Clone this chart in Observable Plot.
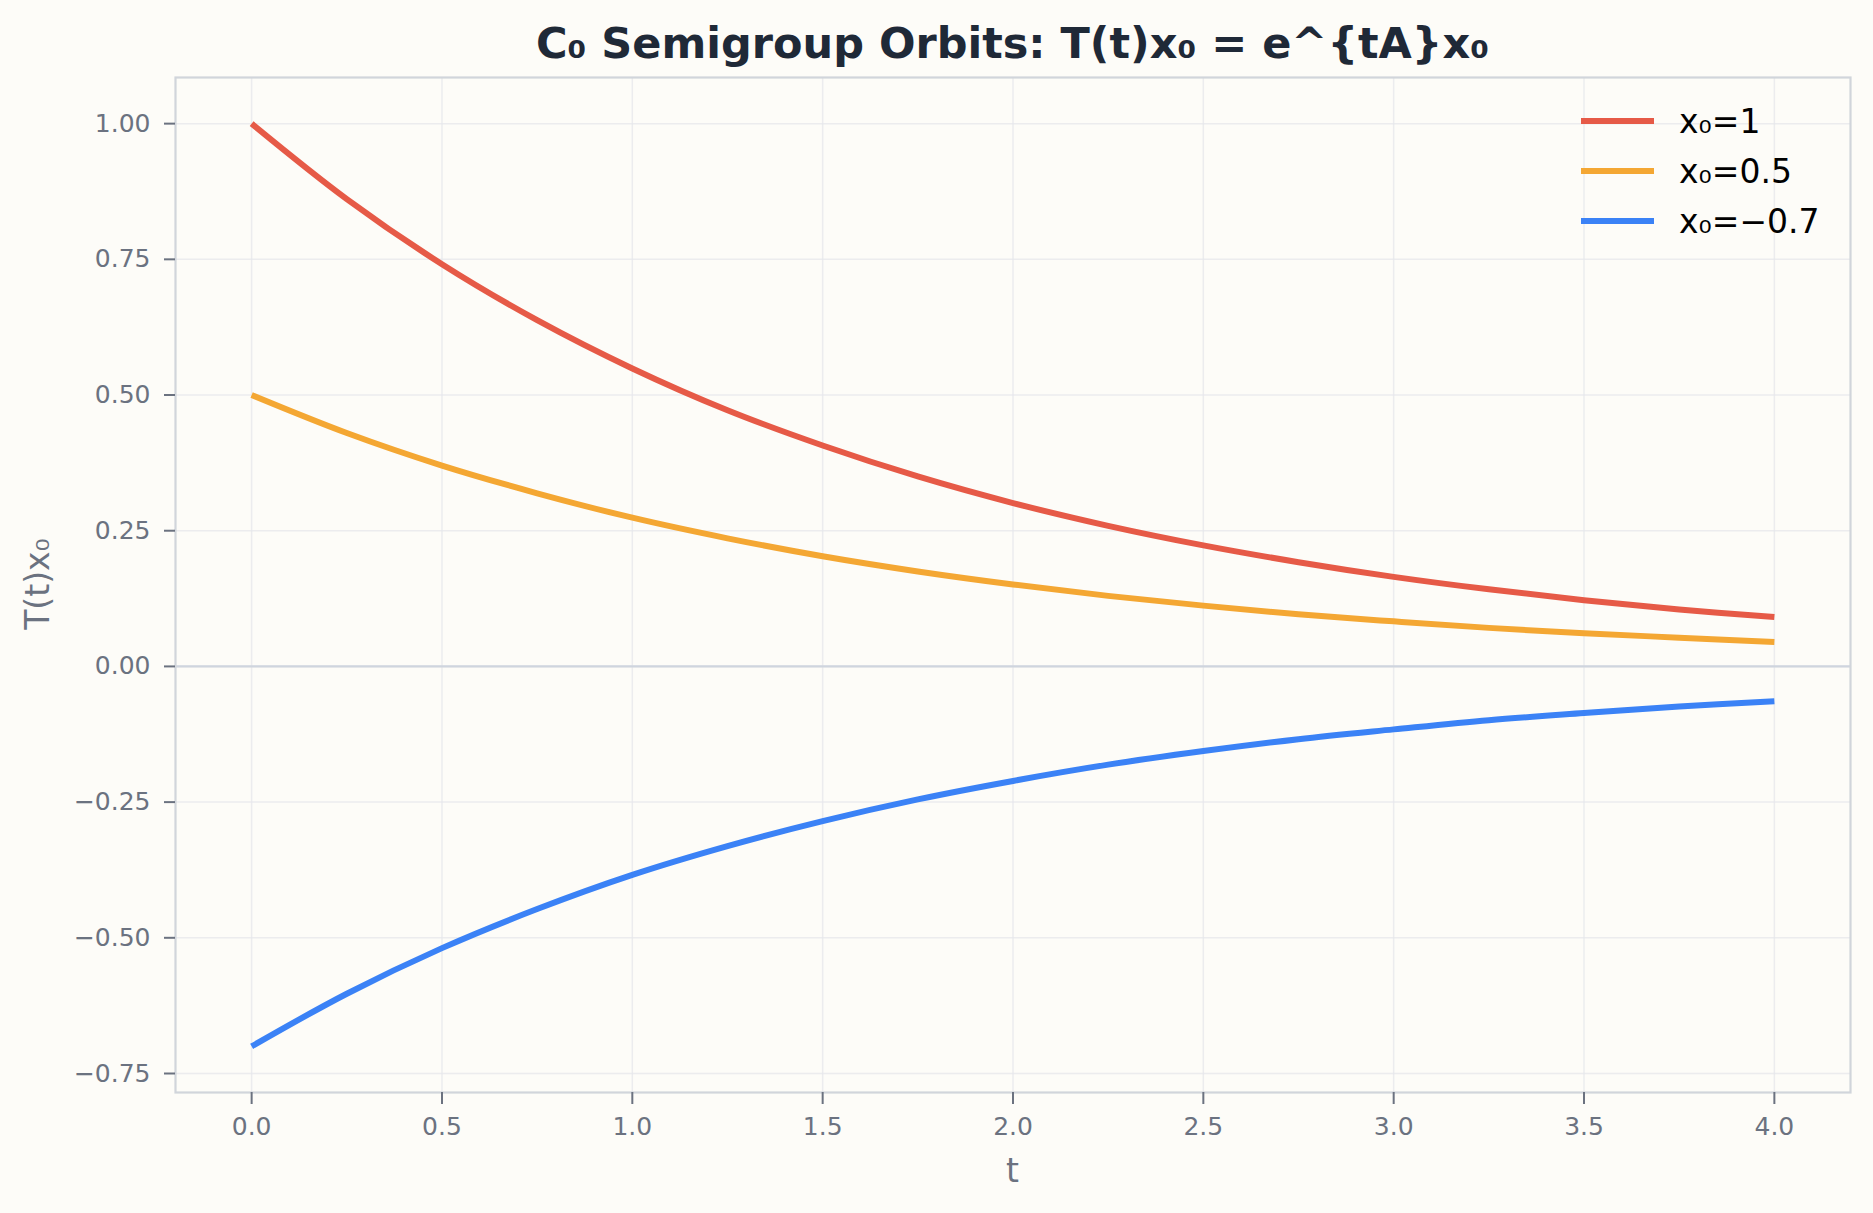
<!DOCTYPE html>
<html>
<head>
<meta charset="utf-8">
<script src="https://cdn.jsdelivr.net/npm/d3@7"></script>
<script src="https://cdn.jsdelivr.net/npm/@observablehq/plot@0.6"></script>
<style>
  html, body { margin: 0; padding: 0; background: #fdfcf8; }
  #wrap { position: relative; width: 1873px; height: 1213px; font-family: "DejaVu Sans", sans-serif; }
  #title { position: absolute; left: 175px; width: 1675px; top: 20px; text-align: center; font-size: 43px; line-height: 46px; font-weight: bold; color: #1f2937; }
  .axlabel { position: absolute; font-size: 33px; color: #6b7280; line-height: 36px; }
  #xlabel { left: 175px; width: 1675px; text-align: center; top: 1153px; }
  #ylabel { left: 38px; top: 584px; transform: translate(-50%, -50%) rotate(-90deg); white-space: nowrap; }
  #legend { position: absolute; left: 1581px; top: 96px; font-size: 33px; color: #000; }
  .row { display: flex; align-items: center; height: 50px; }
  .swatch { width: 73px; height: 6px; margin-right: 25px; }
  svg { position: absolute; left: 0; top: 0; }
</style>
</head>
<body>
<div id="wrap">
  <div id="title">C₀ Semigroup Orbits: T(t)x₀ = e^{tA}x₀</div>
  <div id="xlabel" class="axlabel">t</div>
  <div id="ylabel" class="axlabel">T(t)x₀</div>
  <div id="legend"></div>
</div>
<script>
// Data
const tValues = [0, 0.25, 0.5, 0.75, 1, 1.25, 1.5, 1.75, 2, 2.25, 2.5, 2.75, 3, 3.25, 3.5, 3.75, 4];
const seriesNames = ["x₀=1", "x₀=0.5", "x₀=−0.7"];
const seriesColors = ["#e65a47", "#f4a733", "#3b82f6"];
const redValues = [1.00, 0.861, 0.741, 0.638, 0.549, 0.472, 0.407, 0.350, 0.301, 0.259, 0.223, 0.192, 0.165, 0.142, 0.122, 0.105, 0.091];
const orangeValues = [0.50, 0.430, 0.370, 0.319, 0.274, 0.236, 0.203, 0.175, 0.151, 0.130, 0.112, 0.096, 0.083, 0.071, 0.061, 0.053, 0.045];
const blueValues = [-0.70, -0.603, -0.519, -0.447, -0.384, -0.331, -0.285, -0.245, -0.211, -0.181, -0.156, -0.134, -0.116, -0.099, -0.086, -0.074, -0.064];
const xTicks = [0, 0.5, 1, 1.5, 2, 2.5, 3, 3.5, 4];
const yTicks = [-0.75, -0.5, -0.25, 0, 0.25, 0.5, 0.75, 1.0];

const allValues = [redValues, orangeValues, blueValues];
const data = [];
allValues.forEach((vals, i) => {
  vals.forEach((v, j) => data.push({t: tValues[j], v, series: seriesNames[i]}));
});

const gray = "#6b7280";
const chart = Plot.plot({
  width: 1873,
  height: 1213,
  marginLeft: 175,
  marginRight: 23,
  marginTop: 77,
  marginBottom: 121,
  style: {background: "transparent", fontFamily: "DejaVu Sans", fontSize: "25px"},
  x: {domain: [-0.2, 4.2]},
  y: {domain: [-0.785, 1.085]},
  color: {domain: seriesNames, range: seriesColors},
  marks: [
    Plot.gridX(xTicks, {stroke: "#e5e7eb", strokeOpacity: 0.75, strokeWidth: 1.5}),
    Plot.gridY(yTicks, {stroke: "#e5e7eb", strokeOpacity: 0.75, strokeWidth: 1.5}),
    Plot.ruleY([0], {stroke: "#cfd5de", strokeWidth: 2.2}),
    Plot.line(data, {x: "t", y: "v", z: "series", stroke: "series", curve: "catmull-rom", strokeWidth: 6, strokeLinecap: "butt", strokeLinejoin: "round"}),
    Plot.frame({stroke: "#d1d5db", strokeWidth: 2.2}),
    Plot.axisX(xTicks, {tickFormat: d3.format(".1f"), tickSize: 12, tickPadding: 13, color: gray, strokeWidth: 2, label: null, fontSize: 25}),
    Plot.axisY(yTicks, {tickFormat: d3.format(".2f"), tickSize: 11, tickPadding: 14, color: gray, strokeWidth: 2, label: null, fontSize: 25})
  ]
});
document.getElementById("wrap").prepend(chart);

const legend = document.getElementById("legend");
seriesNames.forEach((name, i) => {
  const row = document.createElement("div");
  row.className = "row";
  const sw = document.createElement("div");
  sw.className = "swatch";
  sw.style.background = seriesColors[i];
  const label = document.createElement("span");
  label.textContent = name;
  row.appendChild(sw);
  row.appendChild(label);
  legend.appendChild(row);
});
</script>
</body>
</html>
